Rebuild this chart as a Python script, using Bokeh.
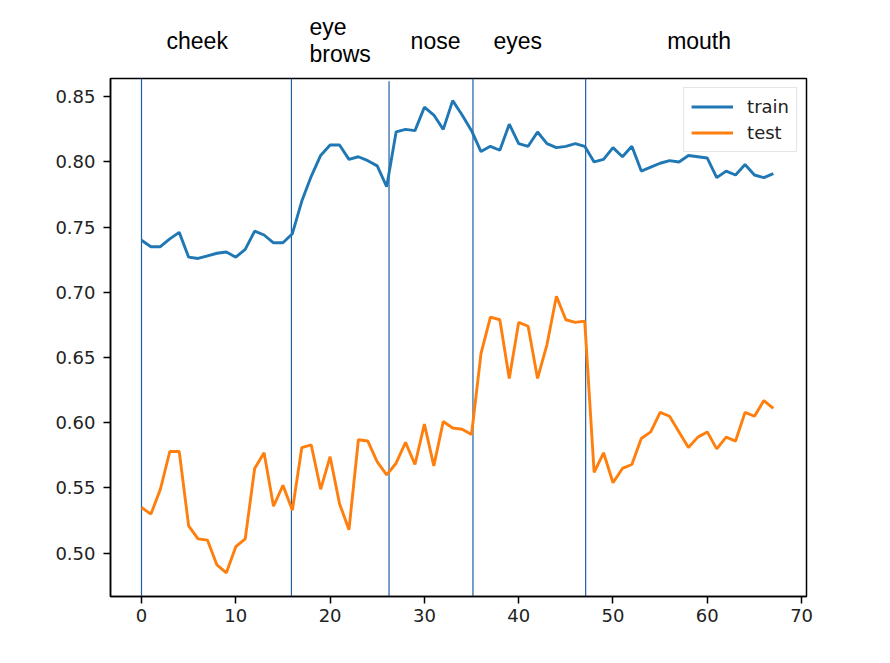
from bokeh.plotting import figure
from bokeh.models import Range1d, FixedTicker, PrintfTickFormatter, Legend, LegendItem, ColumnDataSource
from bokeh.layouts import column
from bokeh.embed import file_html
from bokeh.resources import INLINE

epochs = list(range(68))
train = [0.740,0.735,0.735,0.741,0.746,0.727,0.726,0.728,0.730,0.731,
         0.727,0.733,0.747,0.744,0.738,0.738,0.745,0.770,0.789,0.805,
         0.813,0.813,0.802,0.804,0.801,0.797,0.781,0.823,0.825,0.824,
         0.842,0.836,0.825,0.847,0.836,0.824,0.808,0.812,0.809,0.829,
         0.814,0.812,0.823,0.814,0.811,0.812,0.814,0.812,0.800,0.802,
         0.811,0.804,0.812,0.793,0.796,0.799,0.801,0.800,0.805,0.804,
         0.803,0.788,0.793,0.790,0.798,0.790,0.788,0.791]
test = [0.535,0.530,0.549,0.578,0.578,0.521,0.511,0.510,0.491,0.485,
        0.505,0.511,0.565,0.577,0.536,0.552,0.533,0.581,0.583,0.549,
        0.574,0.538,0.518,0.587,0.586,0.570,0.560,0.569,0.585,0.568,
        0.599,0.567,0.601,0.596,0.595,0.591,0.653,0.681,0.679,0.634,
        0.677,0.674,0.634,0.660,0.697,0.679,0.677,0.678,0.562,0.577,
        0.554,0.565,0.568,0.588,0.593,0.608,0.605,0.593,0.581,0.589,
        0.593,0.580,0.589,0.586,0.608,0.605,0.617,0.611]

# region boundaries (x) and region names
boundaries = [0.0, 15.9, 26.25, 35.15, 47.1]
regions = ["cheek", "eye", "brows", "nose", "eyes", "mouth"]
region_x = [5.91, 17.81, 17.81, 31.18, 39.9, 59.13]
region_row = [30.0, 44.0, 16.5, 30.0, 30.0, 30.0]
region_align = ["center", "left", "left", "center", "center", "center"]

x_ticks = [0, 10, 20, 30, 40, 50, 60, 70]
y_ticks = [0.50, 0.55, 0.60, 0.65, 0.70, 0.75, 0.80, 0.85]

X0, X1 = -3.287, 70.52
Y0, Y1 = 0.4668, 0.8640
NOSE_TOP = 0.8618

xr = Range1d(X0, X1)

# header strip with region names
head = figure(width=874, height=70, output_backend="svg", toolbar_location=None,
              x_range=xr, y_range=Range1d(0, 70),
              x_axis_location=None, y_axis_location=None,
              min_border_left=110, min_border_right=68, min_border_top=0, min_border_bottom=0)
head.outline_line_color = None
head.grid.visible = False
head.background_fill_color = "white"
head.border_fill_color = "white"
src = ColumnDataSource(dict(x=region_x, y=region_row, text=regions, align=region_align))
head.text(x="x", y="y", text="text", text_align="align", text_baseline="alphabetic",
          text_font={"value": "Liberation Sans"}, text_font_size="23px", text_color="black",
          source=src)

p = figure(width=874, height=577, output_backend="svg", toolbar_location=None,
           x_range=xr, y_range=Range1d(Y0, Y1),
           min_border_left=110, min_border_right=68, min_border_top=8, min_border_bottom=51)
p.background_fill_color = "white"
p.border_fill_color = "white"
p.grid.visible = False
p.outline_line_color = "black"
p.outline_line_width = 1.5

for ax in (p.xaxis[0], p.yaxis[0]):
    ax.axis_line_color = "black"
    ax.axis_line_width = 1.5
    ax.major_tick_line_color = "black"
    ax.major_tick_line_width = 1.5
    ax.major_tick_out = 7
    ax.major_tick_in = 0
    ax.minor_tick_line_color = None
    ax.major_label_text_font = "DejaVu Sans"
    ax.major_label_text_font_size = "18px"
    ax.major_label_text_color = "#222222"

p.xaxis.ticker = FixedTicker(ticks=x_ticks)
p.yaxis.ticker = FixedTicker(ticks=y_ticks)
p.yaxis.formatter = PrintfTickFormatter(format="%.2f")
p.xaxis.major_label_standoff = 5
p.yaxis.major_label_standoff = 8

# region divider lines
tops = [Y1, Y1, NOSE_TOP, Y1, Y1]
p.segment(x0=boundaries, y0=[Y0] * len(boundaries), x1=boundaries, y1=tops,
          line_color="#1f5fa6", line_width=1.2)

r_train = p.line(epochs, train, line_color="#1f77b4", line_width=2.9)
r_test = p.line(epochs, test, line_color="#ff7f0e", line_width=2.9)

legend = Legend(items=[LegendItem(label="train", renderers=[r_train]),
                       LegendItem(label="test", renderers=[r_test])],
                location="top_right")
legend.margin = 9
legend.padding = 7
legend.spacing = 3
legend.glyph_width = 42
legend.glyph_height = 23
legend.label_height = 23
legend.label_standoff = 14
legend.label_text_font = "DejaVu Sans"
legend.label_text_font_size = "18px"
legend.label_text_color = "#222222"
legend.border_line_color = "#cccccc"
legend.border_line_width = 1
legend.background_fill_alpha = 0.8
p.add_layout(legend)

layout = column(head, p, spacing=0)
open("out.html", "w").write(file_html(layout, INLINE))
